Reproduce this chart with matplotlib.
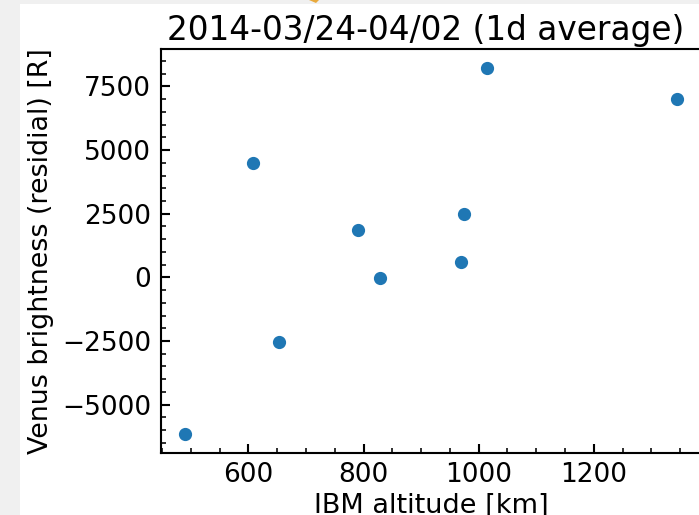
import numpy as np
import matplotlib
matplotlib.use("Agg")
import matplotlib.pyplot as plt
from matplotlib.patches import Rectangle, Polygon

# daily averages
altitude = [490, 608, 654, 790, 828, 970, 975, 1014, 1345]
brightness = [-6170, 4504, -2531, 1847, -39, 601, 2500, 8237, 6995]

W, H = 699, 515
dpi = 190
fig = plt.figure(figsize=(W/dpi, H/dpi), dpi=dpi)
fig.patch.set_facecolor('#f0f0f0')
# white canvas of the screenshot (gray window border at left/top)
fig.patches.append(Rectangle((20/W, 0), 1 - 20/W, (H-4)/H, transform=fig.transFigure,
                             facecolor='white', edgecolor='none', zorder=-2))
fig.patches.append(Polygon([[309/W, 1.0], [319/W, 1.0], [316/W, (H-3)/H]], closed=True,
                           transform=fig.transFigure, facecolor='#e8a93c',
                           edgecolor='none', zorder=-1))

left, right = 160.5, 701.8
top, bottom = 49.4, 452.7
ax = fig.add_axes([left/W, (H-bottom)/H, (right-left)/W, (bottom-top)/H])

ax.scatter(altitude, brightness, s=16, color='#1f77b4')
ax.set_title('2014-03/24-04/02 (1d average)', fontsize=12.4, pad=3.6, x=0.4905)
ax.set_xlabel('IBM altitude [km]', fontsize=10.3, labelpad=2.0)
ax.set_ylabel('Venus brightness (residial) [R]', fontsize=10.2, labelpad=3)
ax.minorticks_on()
ax.tick_params(which='both', direction='in')

fig.savefig('out.png', dpi=dpi, facecolor=fig.get_facecolor())
